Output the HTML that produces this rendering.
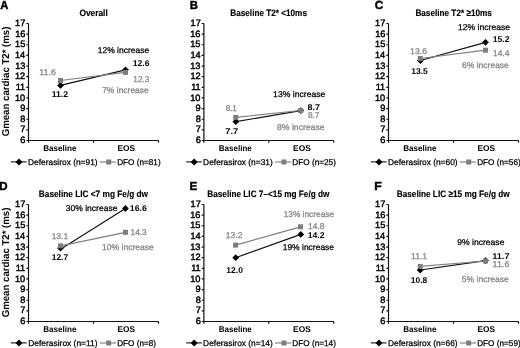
<!DOCTYPE html><html><head><meta charset="utf-8"><style>html,body{margin:0;padding:0;background:#fff;width:520px;height:348px;overflow:hidden}svg{display:block;will-change:transform}text{font-family:"Liberation Sans",sans-serif;text-rendering:geometricPrecision}</style></head><body>
<svg width="520" height="348" viewBox="0 0 520 348">
<rect width="520" height="348" fill="#fff"/>
<path d="M28.50 23.50V140.50H158.50M26.30 140.50H28.50M26.30 129.86H28.50M26.30 119.23H28.50M26.30 108.59H28.50M26.30 97.95H28.50M26.30 87.32H28.50M26.30 76.68H28.50M26.30 66.05H28.50M26.30 55.41H28.50M26.30 44.77H28.50M26.30 34.14H28.50M26.30 23.50H28.50M28.50 140.50V142.70M93.50 140.50V142.70M158.50 140.50V142.70" fill="none" stroke="#111" stroke-width="1.2"/>
<path d="M60.50 85.40L125.50 69.80" stroke="#111" stroke-width="1.2"/>
<path d="M60.50 82.00l3.40 3.40l-3.40 3.40l-3.40 -3.40z" fill="#000"/>
<path d="M125.50 66.40l3.40 3.40l-3.40 3.40l-3.40 -3.40z" fill="#000"/>
<path d="M60.50 80.50L125.50 72.40" stroke="#808080" stroke-width="1.2"/>
<rect x="58.00" y="78.00" width="5.00" height="5.00" fill="#7d7d7d"/>
<rect x="123.00" y="69.90" width="5.00" height="5.00" fill="#7d7d7d"/>
<path d="M11.00 161.90H26.60" stroke="#111" stroke-width="1.1"/>
<path d="M19.00 158.40l3.50 3.50l-3.50 3.50l-3.50 -3.50z" fill="#000"/>
<path d="M99.80 162.00H116.20" stroke="#7a7a7a" stroke-width="1.1"/>
<rect x="106.20" y="159.50" width="5.00" height="5.00" fill="#7d7d7d"/>
<path d="M203.90 23.50V140.50H333.70M201.70 140.50H203.90M201.70 129.86H203.90M201.70 119.23H203.90M201.70 108.59H203.90M201.70 97.95H203.90M201.70 87.32H203.90M201.70 76.68H203.90M201.70 66.05H203.90M201.70 55.41H203.90M201.70 44.77H203.90M201.70 34.14H203.90M201.70 23.50H203.90M203.90 140.50V142.70M268.80 140.50V142.70M333.70 140.50V142.70" fill="none" stroke="#111" stroke-width="1.2"/>
<path d="M235.80 121.70L300.70 110.60" stroke="#111" stroke-width="1.2"/>
<path d="M235.80 118.30l3.40 3.40l-3.40 3.40l-3.40 -3.40z" fill="#000"/>
<path d="M300.70 107.20l3.40 3.40l-3.40 3.40l-3.40 -3.40z" fill="#000"/>
<path d="M235.80 117.40L300.70 110.50" stroke="#808080" stroke-width="1.2"/>
<rect x="233.30" y="114.90" width="5.00" height="5.00" fill="#7d7d7d"/>
<rect x="298.20" y="108.00" width="5.00" height="5.00" fill="#7d7d7d"/>
<path d="M186.20 161.90H201.80" stroke="#111" stroke-width="1.1"/>
<path d="M194.20 158.40l3.50 3.50l-3.50 3.50l-3.50 -3.50z" fill="#000"/>
<path d="M275.00 162.00H291.40" stroke="#7a7a7a" stroke-width="1.1"/>
<rect x="281.40" y="159.50" width="5.00" height="5.00" fill="#7d7d7d"/>
<path d="M388.50 23.50V140.50H518.50M386.30 140.50H388.50M386.30 129.86H388.50M386.30 119.23H388.50M386.30 108.59H388.50M386.30 97.95H388.50M386.30 87.32H388.50M386.30 76.68H388.50M386.30 66.05H388.50M386.30 55.41H388.50M386.30 44.77H388.50M386.30 34.14H388.50M386.30 23.50H388.50M388.50 140.50V142.70M453.50 140.50V142.70M518.50 140.50V142.70" fill="none" stroke="#111" stroke-width="1.2"/>
<path d="M420.40 60.50L485.50 42.30" stroke="#111" stroke-width="1.2"/>
<path d="M420.40 57.10l3.40 3.40l-3.40 3.40l-3.40 -3.40z" fill="#000"/>
<path d="M485.50 38.90l3.40 3.40l-3.40 3.40l-3.40 -3.40z" fill="#000"/>
<path d="M420.30 58.50L485.50 50.20" stroke="#808080" stroke-width="1.2"/>
<rect x="417.80" y="56.00" width="5.00" height="5.00" fill="#7d7d7d"/>
<rect x="483.00" y="47.70" width="5.00" height="5.00" fill="#7d7d7d"/>
<path d="M371.00 161.90H386.60" stroke="#111" stroke-width="1.1"/>
<path d="M379.00 158.40l3.50 3.50l-3.50 3.50l-3.50 -3.50z" fill="#000"/>
<path d="M459.80 162.00H476.20" stroke="#7a7a7a" stroke-width="1.1"/>
<rect x="466.20" y="159.50" width="5.00" height="5.00" fill="#7d7d7d"/>
<path d="M28.50 204.50V321.50H158.50M26.30 321.50H28.50M26.30 310.86H28.50M26.30 300.23H28.50M26.30 289.59H28.50M26.30 278.95H28.50M26.30 268.32H28.50M26.30 257.68H28.50M26.30 247.05H28.50M26.30 236.41H28.50M26.30 225.77H28.50M26.30 215.14H28.50M26.30 204.50H28.50M28.50 321.50V323.70M93.50 321.50V323.70M158.50 321.50V323.70" fill="none" stroke="#111" stroke-width="1.2"/>
<path d="M60.50 249.20L125.40 208.50" stroke="#111" stroke-width="1.2"/>
<path d="M60.50 244.80l3.40 3.40l-3.40 3.40l-3.40 -3.40z" fill="#000"/>
<path d="M125.40 205.10l3.40 3.40l-3.40 3.40l-3.40 -3.40z" fill="#000"/>
<path d="M60.45 245.90L125.50 232.30" stroke="#808080" stroke-width="1.2"/>
<rect x="57.95" y="243.40" width="5.00" height="5.00" fill="#7d7d7d"/>
<rect x="123.00" y="229.80" width="5.00" height="5.00" fill="#7d7d7d"/>
<path d="M11.00 342.90H26.60" stroke="#111" stroke-width="1.1"/>
<path d="M19.00 339.40l3.50 3.50l-3.50 3.50l-3.50 -3.50z" fill="#000"/>
<path d="M99.80 343.00H116.20" stroke="#7a7a7a" stroke-width="1.1"/>
<rect x="106.20" y="340.50" width="5.00" height="5.00" fill="#7d7d7d"/>
<path d="M203.90 204.50V321.50H333.70M201.70 321.50H203.90M201.70 310.86H203.90M201.70 300.23H203.90M201.70 289.59H203.90M201.70 278.95H203.90M201.70 268.32H203.90M201.70 257.68H203.90M201.70 247.05H203.90M201.70 236.41H203.90M201.70 225.77H203.90M201.70 215.14H203.90M201.70 204.50H203.90M203.90 321.50V323.70M268.80 321.50V323.70M333.70 321.50V323.70" fill="none" stroke="#111" stroke-width="1.2"/>
<path d="M235.70 257.70L300.80 234.40" stroke="#111" stroke-width="1.2"/>
<path d="M235.70 254.30l3.40 3.40l-3.40 3.40l-3.40 -3.40z" fill="#000"/>
<path d="M300.80 231.00l3.40 3.40l-3.40 3.40l-3.40 -3.40z" fill="#000"/>
<path d="M235.60 245.10L300.50 226.80" stroke="#808080" stroke-width="1.2"/>
<rect x="233.10" y="242.60" width="5.00" height="5.00" fill="#7d7d7d"/>
<rect x="298.00" y="224.30" width="5.00" height="5.00" fill="#7d7d7d"/>
<path d="M186.20 342.90H201.80" stroke="#111" stroke-width="1.1"/>
<path d="M194.20 339.40l3.50 3.50l-3.50 3.50l-3.50 -3.50z" fill="#000"/>
<path d="M275.00 343.00H291.40" stroke="#7a7a7a" stroke-width="1.1"/>
<rect x="281.40" y="340.50" width="5.00" height="5.00" fill="#7d7d7d"/>
<path d="M388.50 204.50V321.50H518.50M386.30 321.50H388.50M386.30 310.86H388.50M386.30 300.23H388.50M386.30 289.59H388.50M386.30 278.95H388.50M386.30 268.32H388.50M386.30 257.68H388.50M386.30 247.05H388.50M386.30 236.41H388.50M386.30 225.77H388.50M386.30 215.14H388.50M386.30 204.50H388.50M388.50 321.50V323.70M453.50 321.50V323.70M518.50 321.50V323.70" fill="none" stroke="#111" stroke-width="1.2"/>
<path d="M420.20 270.00L485.50 260.60" stroke="#111" stroke-width="1.2"/>
<path d="M420.20 266.60l3.40 3.40l-3.40 3.40l-3.40 -3.40z" fill="#000"/>
<path d="M485.50 257.20l3.40 3.40l-3.40 3.40l-3.40 -3.40z" fill="#000"/>
<path d="M420.20 266.40L485.50 261.00" stroke="#808080" stroke-width="1.2"/>
<rect x="417.70" y="263.90" width="5.00" height="5.00" fill="#7d7d7d"/>
<rect x="483.00" y="258.50" width="5.00" height="5.00" fill="#7d7d7d"/>
<path d="M371.00 342.90H386.60" stroke="#111" stroke-width="1.1"/>
<path d="M379.00 339.40l3.50 3.50l-3.50 3.50l-3.50 -3.50z" fill="#000"/>
<path d="M459.80 343.00H476.20" stroke="#7a7a7a" stroke-width="1.1"/>
<rect x="466.20" y="340.50" width="5.00" height="5.00" fill="#7d7d7d"/>
<text id="YT0" transform="translate(8.90 81.45) rotate(-90)" text-anchor="middle" font-size="10.00" font-weight="bold" textLength="109.70" lengthAdjust="spacingAndGlyphs" fill="#000" stroke="#000" stroke-width="0.00">Gmean cardiac T2* (ms)</text>
<text id="YT1" transform="translate(8.90 262.45) rotate(-90)" text-anchor="middle" font-size="10.00" font-weight="bold" textLength="109.70" lengthAdjust="spacingAndGlyphs" fill="#000" stroke="#000" stroke-width="0.00">Gmean cardiac T2* (ms)</text>
<text id="LA" x="0.22" y="8.70" font-size="11.70" font-weight="bold" fill="#000" textLength="8.09" lengthAdjust="spacingAndGlyphs" stroke="#000" stroke-width="0.45">A</text>
<text id="LB" x="189.77" y="8.70" font-size="11.70" font-weight="bold" fill="#000" textLength="8.23" lengthAdjust="spacingAndGlyphs" stroke="#000" stroke-width="0.45">B</text>
<text id="LC" x="374.72" y="8.70" font-size="11.70" font-weight="bold" fill="#000" textLength="8.49" lengthAdjust="spacingAndGlyphs" stroke="#000" stroke-width="0.45">C</text>
<text id="LD" x="-0.72" y="189.80" font-size="11.70" font-weight="bold" fill="#000" textLength="8.32" lengthAdjust="spacingAndGlyphs" stroke="#000" stroke-width="0.45">D</text>
<text id="LE" x="189.48" y="189.70" font-size="11.70" font-weight="bold" fill="#000" textLength="7.78" lengthAdjust="spacingAndGlyphs" stroke="#000" stroke-width="0.45">E</text>
<text id="LF" x="374.15" y="189.70" font-size="11.70" font-weight="bold" fill="#000" textLength="7.50" lengthAdjust="spacingAndGlyphs" stroke="#000" stroke-width="0.45">F</text>
<text id="TA" x="79.51" y="15.60" font-size="9.30" font-weight="bold" fill="#000" textLength="28.25" lengthAdjust="spacingAndGlyphs" stroke="#000" stroke-width="0.15">Overall</text>
<text id="TB" x="230.32" y="15.60" font-size="9.30" font-weight="bold" fill="#000" textLength="76.64" lengthAdjust="spacingAndGlyphs" stroke="#000" stroke-width="0.15">Baseline T2* &lt;10ms</text>
<text id="TC" x="415.38" y="15.60" font-size="9.30" font-weight="bold" fill="#000" textLength="76.50" lengthAdjust="spacingAndGlyphs" stroke="#000" stroke-width="0.15">Baseline T2* ≥10ms</text>
<text id="TD" x="38.80" y="196.60" font-size="9.30" font-weight="bold" fill="#000" textLength="109.27" lengthAdjust="spacingAndGlyphs" stroke="#000" stroke-width="0.15">Baseline LIC &lt;7 mg Fe/g dw</text>
<text id="TE" x="207.28" y="196.60" font-size="9.30" font-weight="bold" fill="#000" textLength="122.17" lengthAdjust="spacingAndGlyphs" stroke="#000" stroke-width="0.15">Baseline LIC 7–&lt;15 mg Fe/g dw</text>
<text id="TF" x="396.69" y="196.60" font-size="9.30" font-weight="bold" fill="#000" textLength="112.99" lengthAdjust="spacingAndGlyphs" stroke="#000" stroke-width="0.15">Baseline LIC ≥15 mg Fe/g dw</text>
<text id="K00_6" x="20.16" y="143.10" font-size="9.20" font-weight="normal" fill="#000" stroke="#000" stroke-width="0.45">6</text>
<text id="K00_7" x="20.33" y="132.46" font-size="9.20" font-weight="normal" fill="#000" stroke="#000" stroke-width="0.45">7</text>
<text id="K00_8" x="20.17" y="121.83" font-size="9.20" font-weight="normal" fill="#000" stroke="#000" stroke-width="0.45">8</text>
<text id="K00_9" x="20.24" y="111.19" font-size="9.20" font-weight="normal" fill="#000" stroke="#000" stroke-width="0.45">9</text>
<text id="K00_10" x="14.96" y="100.55" font-size="9.20" font-weight="normal" fill="#000" stroke="#000" stroke-width="0.45">10</text>
<text id="K00_11" x="15.69" y="89.92" font-size="9.20" font-weight="normal" fill="#000" stroke="#000" stroke-width="0.45">11</text>
<text id="K00_12" x="14.99" y="79.28" font-size="9.20" font-weight="normal" fill="#000" stroke="#000" stroke-width="0.45">12</text>
<text id="K00_13" x="15.13" y="68.65" font-size="9.20" font-weight="normal" fill="#000" stroke="#000" stroke-width="0.45">13</text>
<text id="K00_14" x="14.89" y="58.01" font-size="9.20" font-weight="normal" fill="#000" stroke="#000" stroke-width="0.45">14</text>
<text id="K00_15" x="15.09" y="47.37" font-size="9.20" font-weight="normal" fill="#000" stroke="#000" stroke-width="0.45">15</text>
<text id="K00_16" x="15.14" y="36.74" font-size="9.20" font-weight="normal" fill="#000" stroke="#000" stroke-width="0.45">16</text>
<text id="K00_17" x="15.11" y="26.10" font-size="9.20" font-weight="normal" fill="#000" stroke="#000" stroke-width="0.45">17</text>
<text id="K01_6" x="195.69" y="143.10" font-size="9.20" font-weight="normal" fill="#000" stroke="#000" stroke-width="0.45">6</text>
<text id="K01_7" x="195.79" y="132.46" font-size="9.20" font-weight="normal" fill="#000" stroke="#000" stroke-width="0.45">7</text>
<text id="K01_8" x="195.70" y="121.83" font-size="9.20" font-weight="normal" fill="#000" stroke="#000" stroke-width="0.45">8</text>
<text id="K01_9" x="195.49" y="111.19" font-size="9.20" font-weight="normal" fill="#000" stroke="#000" stroke-width="0.45">9</text>
<text id="K01_10" x="190.14" y="100.55" font-size="9.20" font-weight="normal" fill="#000" stroke="#000" stroke-width="0.45">10</text>
<text id="K01_11" x="191.20" y="89.92" font-size="9.20" font-weight="normal" fill="#000" stroke="#000" stroke-width="0.45">11</text>
<text id="K01_12" x="190.49" y="79.28" font-size="9.20" font-weight="normal" fill="#000" stroke="#000" stroke-width="0.45">12</text>
<text id="K01_13" x="190.20" y="68.65" font-size="9.20" font-weight="normal" fill="#000" stroke="#000" stroke-width="0.45">13</text>
<text id="K01_14" x="190.46" y="58.01" font-size="9.20" font-weight="normal" fill="#000" stroke="#000" stroke-width="0.45">14</text>
<text id="K01_15" x="190.24" y="47.37" font-size="9.20" font-weight="normal" fill="#000" stroke="#000" stroke-width="0.45">15</text>
<text id="K01_16" x="190.19" y="36.74" font-size="9.20" font-weight="normal" fill="#000" stroke="#000" stroke-width="0.45">16</text>
<text id="K01_17" x="190.58" y="26.10" font-size="9.20" font-weight="normal" fill="#000" stroke="#000" stroke-width="0.45">17</text>
<text id="K02_6" x="380.16" y="143.10" font-size="9.20" font-weight="normal" fill="#000" stroke="#000" stroke-width="0.45">6</text>
<text id="K02_7" x="380.33" y="132.46" font-size="9.20" font-weight="normal" fill="#000" stroke="#000" stroke-width="0.45">7</text>
<text id="K02_8" x="380.17" y="121.83" font-size="9.20" font-weight="normal" fill="#000" stroke="#000" stroke-width="0.45">8</text>
<text id="K02_9" x="380.24" y="111.19" font-size="9.20" font-weight="normal" fill="#000" stroke="#000" stroke-width="0.45">9</text>
<text id="K02_10" x="374.96" y="100.55" font-size="9.20" font-weight="normal" fill="#000" stroke="#000" stroke-width="0.45">10</text>
<text id="K02_11" x="375.69" y="89.92" font-size="9.20" font-weight="normal" fill="#000" stroke="#000" stroke-width="0.45">11</text>
<text id="K02_12" x="374.99" y="79.28" font-size="9.20" font-weight="normal" fill="#000" stroke="#000" stroke-width="0.45">12</text>
<text id="K02_13" x="375.13" y="68.65" font-size="9.20" font-weight="normal" fill="#000" stroke="#000" stroke-width="0.45">13</text>
<text id="K02_14" x="374.89" y="58.01" font-size="9.20" font-weight="normal" fill="#000" stroke="#000" stroke-width="0.45">14</text>
<text id="K02_15" x="375.09" y="47.37" font-size="9.20" font-weight="normal" fill="#000" stroke="#000" stroke-width="0.45">15</text>
<text id="K02_16" x="375.14" y="36.74" font-size="9.20" font-weight="normal" fill="#000" stroke="#000" stroke-width="0.45">16</text>
<text id="K02_17" x="375.11" y="26.10" font-size="9.20" font-weight="normal" fill="#000" stroke="#000" stroke-width="0.45">17</text>
<text id="K10_6" x="20.16" y="324.10" font-size="9.20" font-weight="normal" fill="#000" stroke="#000" stroke-width="0.45">6</text>
<text id="K10_7" x="20.33" y="313.46" font-size="9.20" font-weight="normal" fill="#000" stroke="#000" stroke-width="0.45">7</text>
<text id="K10_8" x="20.17" y="302.83" font-size="9.20" font-weight="normal" fill="#000" stroke="#000" stroke-width="0.45">8</text>
<text id="K10_9" x="20.24" y="292.19" font-size="9.20" font-weight="normal" fill="#000" stroke="#000" stroke-width="0.45">9</text>
<text id="K10_10" x="14.96" y="281.55" font-size="9.20" font-weight="normal" fill="#000" stroke="#000" stroke-width="0.45">10</text>
<text id="K10_11" x="15.69" y="270.92" font-size="9.20" font-weight="normal" fill="#000" stroke="#000" stroke-width="0.45">11</text>
<text id="K10_12" x="14.99" y="260.28" font-size="9.20" font-weight="normal" fill="#000" stroke="#000" stroke-width="0.45">12</text>
<text id="K10_13" x="15.13" y="249.65" font-size="9.20" font-weight="normal" fill="#000" stroke="#000" stroke-width="0.45">13</text>
<text id="K10_14" x="14.89" y="239.01" font-size="9.20" font-weight="normal" fill="#000" stroke="#000" stroke-width="0.45">14</text>
<text id="K10_15" x="15.09" y="228.37" font-size="9.20" font-weight="normal" fill="#000" stroke="#000" stroke-width="0.45">15</text>
<text id="K10_16" x="15.14" y="217.74" font-size="9.20" font-weight="normal" fill="#000" stroke="#000" stroke-width="0.45">16</text>
<text id="K10_17" x="15.11" y="207.10" font-size="9.20" font-weight="normal" fill="#000" stroke="#000" stroke-width="0.45">17</text>
<text id="K11_6" x="195.69" y="324.10" font-size="9.20" font-weight="normal" fill="#000" stroke="#000" stroke-width="0.45">6</text>
<text id="K11_7" x="195.79" y="313.46" font-size="9.20" font-weight="normal" fill="#000" stroke="#000" stroke-width="0.45">7</text>
<text id="K11_8" x="195.70" y="302.83" font-size="9.20" font-weight="normal" fill="#000" stroke="#000" stroke-width="0.45">8</text>
<text id="K11_9" x="195.49" y="292.19" font-size="9.20" font-weight="normal" fill="#000" stroke="#000" stroke-width="0.45">9</text>
<text id="K11_10" x="190.14" y="281.55" font-size="9.20" font-weight="normal" fill="#000" stroke="#000" stroke-width="0.45">10</text>
<text id="K11_11" x="191.20" y="270.92" font-size="9.20" font-weight="normal" fill="#000" stroke="#000" stroke-width="0.45">11</text>
<text id="K11_12" x="190.49" y="260.28" font-size="9.20" font-weight="normal" fill="#000" stroke="#000" stroke-width="0.45">12</text>
<text id="K11_13" x="190.20" y="249.65" font-size="9.20" font-weight="normal" fill="#000" stroke="#000" stroke-width="0.45">13</text>
<text id="K11_14" x="190.46" y="239.01" font-size="9.20" font-weight="normal" fill="#000" stroke="#000" stroke-width="0.45">14</text>
<text id="K11_15" x="190.24" y="228.37" font-size="9.20" font-weight="normal" fill="#000" stroke="#000" stroke-width="0.45">15</text>
<text id="K11_16" x="190.19" y="217.74" font-size="9.20" font-weight="normal" fill="#000" stroke="#000" stroke-width="0.45">16</text>
<text id="K11_17" x="190.58" y="207.10" font-size="9.20" font-weight="normal" fill="#000" stroke="#000" stroke-width="0.45">17</text>
<text id="K12_6" x="380.16" y="324.10" font-size="9.20" font-weight="normal" fill="#000" stroke="#000" stroke-width="0.45">6</text>
<text id="K12_7" x="380.33" y="313.46" font-size="9.20" font-weight="normal" fill="#000" stroke="#000" stroke-width="0.45">7</text>
<text id="K12_8" x="380.17" y="302.83" font-size="9.20" font-weight="normal" fill="#000" stroke="#000" stroke-width="0.45">8</text>
<text id="K12_9" x="380.24" y="292.19" font-size="9.20" font-weight="normal" fill="#000" stroke="#000" stroke-width="0.45">9</text>
<text id="K12_10" x="374.96" y="281.55" font-size="9.20" font-weight="normal" fill="#000" stroke="#000" stroke-width="0.45">10</text>
<text id="K12_11" x="375.69" y="270.92" font-size="9.20" font-weight="normal" fill="#000" stroke="#000" stroke-width="0.45">11</text>
<text id="K12_12" x="374.99" y="260.28" font-size="9.20" font-weight="normal" fill="#000" stroke="#000" stroke-width="0.45">12</text>
<text id="K12_13" x="375.13" y="249.65" font-size="9.20" font-weight="normal" fill="#000" stroke="#000" stroke-width="0.45">13</text>
<text id="K12_14" x="374.89" y="239.01" font-size="9.20" font-weight="normal" fill="#000" stroke="#000" stroke-width="0.45">14</text>
<text id="K12_15" x="375.09" y="228.37" font-size="9.20" font-weight="normal" fill="#000" stroke="#000" stroke-width="0.45">15</text>
<text id="K12_16" x="375.14" y="217.74" font-size="9.20" font-weight="normal" fill="#000" stroke="#000" stroke-width="0.45">16</text>
<text id="K12_17" x="375.11" y="207.10" font-size="9.20" font-weight="normal" fill="#000" stroke="#000" stroke-width="0.45">17</text>
<text id="XB00" x="43.25" y="150.60" font-size="8.40" font-weight="bold" fill="#000" textLength="33.33" lengthAdjust="spacingAndGlyphs">Baseline</text>
<text id="XE00" x="117.50" y="150.80" font-size="8.40" font-weight="bold" fill="#000" textLength="17.72" lengthAdjust="spacingAndGlyphs">EOS</text>
<text id="XB01" x="218.76" y="150.60" font-size="8.40" font-weight="bold" fill="#000" textLength="33.04" lengthAdjust="spacingAndGlyphs">Baseline</text>
<text id="XE01" x="293.13" y="150.80" font-size="8.40" font-weight="bold" fill="#000" textLength="17.77" lengthAdjust="spacingAndGlyphs">EOS</text>
<text id="XB02" x="403.25" y="150.60" font-size="8.40" font-weight="bold" fill="#000" textLength="33.33" lengthAdjust="spacingAndGlyphs">Baseline</text>
<text id="XE02" x="477.50" y="150.80" font-size="8.40" font-weight="bold" fill="#000" textLength="17.72" lengthAdjust="spacingAndGlyphs">EOS</text>
<text id="XB10" x="43.25" y="331.60" font-size="8.40" font-weight="bold" fill="#000" textLength="33.33" lengthAdjust="spacingAndGlyphs">Baseline</text>
<text id="XE10" x="117.50" y="331.80" font-size="8.40" font-weight="bold" fill="#000" textLength="17.72" lengthAdjust="spacingAndGlyphs">EOS</text>
<text id="XB11" x="218.76" y="331.60" font-size="8.40" font-weight="bold" fill="#000" textLength="33.04" lengthAdjust="spacingAndGlyphs">Baseline</text>
<text id="XE11" x="293.13" y="331.80" font-size="8.40" font-weight="bold" fill="#000" textLength="17.77" lengthAdjust="spacingAndGlyphs">EOS</text>
<text id="XB12" x="403.25" y="331.60" font-size="8.40" font-weight="bold" fill="#000" textLength="33.33" lengthAdjust="spacingAndGlyphs">Baseline</text>
<text id="XE12" x="477.50" y="331.80" font-size="8.40" font-weight="bold" fill="#000" textLength="17.72" lengthAdjust="spacingAndGlyphs">EOS</text>
<text id="GD00" x="28.05" y="165.10" font-size="8.40" font-weight="normal" fill="#000" textLength="69.57" lengthAdjust="spacingAndGlyphs" stroke="#000" stroke-width="0.25">Deferasirox (n=91)</text>
<text id="GF00" x="117.21" y="165.10" font-size="8.40" font-weight="normal" fill="#000" textLength="43.44" lengthAdjust="spacingAndGlyphs" stroke="#000" stroke-width="0.25">DFO (n=81)</text>
<text id="GD01" x="203.10" y="165.10" font-size="8.40" font-weight="normal" fill="#000" textLength="69.73" lengthAdjust="spacingAndGlyphs" stroke="#000" stroke-width="0.25">Deferasirox (n=31)</text>
<text id="GF01" x="292.30" y="165.10" font-size="8.40" font-weight="normal" fill="#000" textLength="43.57" lengthAdjust="spacingAndGlyphs" stroke="#000" stroke-width="0.25">DFO (n=25)</text>
<text id="GD02" x="388.05" y="165.10" font-size="8.40" font-weight="normal" fill="#000" textLength="69.57" lengthAdjust="spacingAndGlyphs" stroke="#000" stroke-width="0.25">Deferasirox (n=60)</text>
<text id="GF02" x="477.16" y="165.10" font-size="8.40" font-weight="normal" fill="#000" textLength="43.54" lengthAdjust="spacingAndGlyphs" stroke="#000" stroke-width="0.25">DFO (n=56)</text>
<text id="GD10" x="28.23" y="346.10" font-size="8.40" font-weight="normal" fill="#000" textLength="69.34" lengthAdjust="spacingAndGlyphs" stroke="#000" stroke-width="0.25">Deferasirox (n=11)</text>
<text id="GF10" x="117.19" y="346.10" font-size="8.40" font-weight="normal" fill="#000" textLength="38.82" lengthAdjust="spacingAndGlyphs" stroke="#000" stroke-width="0.25">DFO (n=8)</text>
<text id="GD11" x="203.10" y="346.10" font-size="8.40" font-weight="normal" fill="#000" textLength="69.73" lengthAdjust="spacingAndGlyphs" stroke="#000" stroke-width="0.25">Deferasirox (n=14)</text>
<text id="GF11" x="292.30" y="346.10" font-size="8.40" font-weight="normal" fill="#000" textLength="43.57" lengthAdjust="spacingAndGlyphs" stroke="#000" stroke-width="0.25">DFO (n=14)</text>
<text id="GD12" x="388.05" y="346.10" font-size="8.40" font-weight="normal" fill="#000" textLength="69.57" lengthAdjust="spacingAndGlyphs" stroke="#000" stroke-width="0.25">Deferasirox (n=66)</text>
<text id="GF12" x="477.16" y="346.10" font-size="8.40" font-weight="normal" fill="#000" textLength="43.54" lengthAdjust="spacingAndGlyphs" stroke="#000" stroke-width="0.25">DFO (n=59)</text>
<text id="A1" x="39.34" y="75.20" font-size="8.40" font-weight="normal" fill="#828282" textLength="16.49" lengthAdjust="spacingAndGlyphs" stroke="#828282" stroke-width="0.25">11.6</text>
<text id="A2" x="51.67" y="96.80" font-size="8.40" font-weight="bold" fill="#000" textLength="16.47" lengthAdjust="spacingAndGlyphs">11.2</text>
<text id="A3" x="97.68" y="52.50" font-size="8.40" font-weight="normal" fill="#000" textLength="51.64" lengthAdjust="spacingAndGlyphs" stroke="#000" stroke-width="0.25">12% increase</text>
<text id="A4" x="132.69" y="65.70" font-size="8.40" font-weight="bold" fill="#000" textLength="16.77" lengthAdjust="spacingAndGlyphs">12.6</text>
<text id="A5" x="133.37" y="82.10" font-size="8.40" font-weight="normal" fill="#828282" textLength="16.06" lengthAdjust="spacingAndGlyphs" stroke="#828282" stroke-width="0.25">12.3</text>
<text id="A6" x="102.15" y="93.00" font-size="8.40" font-weight="normal" fill="#828282" textLength="46.66" lengthAdjust="spacingAndGlyphs" stroke="#828282" stroke-width="0.25">7% increase</text>
<text id="B1" x="225.63" y="111.30" font-size="8.40" font-weight="normal" fill="#828282" textLength="11.25" lengthAdjust="spacingAndGlyphs" stroke="#828282" stroke-width="0.25">8.1</text>
<text id="B2" x="225.23" y="133.50" font-size="8.40" font-weight="bold" fill="#000" textLength="13.10" lengthAdjust="spacingAndGlyphs">7.7</text>
<text id="B3" x="273.08" y="97.00" font-size="8.40" font-weight="normal" fill="#000" textLength="52.30" lengthAdjust="spacingAndGlyphs" stroke="#000" stroke-width="0.25">13% increase</text>
<text id="B4" x="307.59" y="110.30" font-size="8.40" font-weight="bold" fill="#000" textLength="12.54" lengthAdjust="spacingAndGlyphs">8.7</text>
<text id="B5" x="307.88" y="117.60" font-size="8.40" font-weight="normal" fill="#828282" textLength="11.62" lengthAdjust="spacingAndGlyphs" stroke="#828282" stroke-width="0.25">8.7</text>
<text id="B6" x="277.03" y="129.50" font-size="8.40" font-weight="normal" fill="#828282" textLength="47.67" lengthAdjust="spacingAndGlyphs" stroke="#828282" stroke-width="0.25">8% increase</text>
<text id="C1" x="410.08" y="53.80" font-size="8.40" font-weight="normal" fill="#828282" textLength="16.97" lengthAdjust="spacingAndGlyphs" stroke="#828282" stroke-width="0.25">13.6</text>
<text id="C2" x="411.18" y="73.60" font-size="8.40" font-weight="bold" fill="#000" textLength="16.62" lengthAdjust="spacingAndGlyphs">13.5</text>
<text id="C3" x="458.01" y="29.70" font-size="8.40" font-weight="normal" fill="#000" textLength="52.06" lengthAdjust="spacingAndGlyphs" stroke="#000" stroke-width="0.25">12% increase</text>
<text id="C4" x="492.69" y="41.80" font-size="8.40" font-weight="bold" fill="#000" textLength="16.90" lengthAdjust="spacingAndGlyphs">15.2</text>
<text id="C5" x="492.96" y="56.10" font-size="8.40" font-weight="normal" fill="#828282" textLength="16.41" lengthAdjust="spacingAndGlyphs" stroke="#828282" stroke-width="0.25">14.4</text>
<text id="C6" x="462.04" y="67.60" font-size="8.40" font-weight="normal" fill="#828282" textLength="46.82" lengthAdjust="spacingAndGlyphs" stroke="#828282" stroke-width="0.25">6% increase</text>
<text id="D1" x="51.66" y="239.30" font-size="8.40" font-weight="normal" fill="#828282" textLength="16.50" lengthAdjust="spacingAndGlyphs" stroke="#828282" stroke-width="0.25">13.1</text>
<text id="D2" x="51.74" y="259.70" font-size="8.40" font-weight="bold" fill="#000" textLength="16.33" lengthAdjust="spacingAndGlyphs">12.7</text>
<text id="D3" x="65.72" y="210.80" font-size="8.40" font-weight="normal" fill="#000" textLength="51.71" lengthAdjust="spacingAndGlyphs" stroke="#000" stroke-width="0.25">30% increase</text>
<text id="D4" x="129.79" y="210.90" font-size="8.40" font-weight="bold" fill="#000" textLength="17.20" lengthAdjust="spacingAndGlyphs">16.6</text>
<text id="D5" x="130.60" y="235.30" font-size="8.40" font-weight="normal" fill="#828282" textLength="16.12" lengthAdjust="spacingAndGlyphs" stroke="#828282" stroke-width="0.25">14.3</text>
<text id="D6" x="102.08" y="249.80" font-size="8.40" font-weight="normal" fill="#828282" textLength="51.72" lengthAdjust="spacingAndGlyphs" stroke="#828282" stroke-width="0.25">10% increase</text>
<text id="E1" x="225.85" y="237.70" font-size="8.40" font-weight="normal" fill="#828282" textLength="16.70" lengthAdjust="spacingAndGlyphs" stroke="#828282" stroke-width="0.25">13.2</text>
<text id="E2" x="226.32" y="272.70" font-size="8.40" font-weight="bold" fill="#000" textLength="16.61" lengthAdjust="spacingAndGlyphs">12.0</text>
<text id="E3" x="283.66" y="217.20" font-size="8.40" font-weight="normal" fill="#828282" textLength="50.40" lengthAdjust="spacingAndGlyphs" stroke="#828282" stroke-width="0.25">13% increase</text>
<text id="E4" x="308.08" y="229.30" font-size="8.40" font-weight="normal" fill="#828282" textLength="16.38" lengthAdjust="spacingAndGlyphs" stroke="#828282" stroke-width="0.25">14.8</text>
<text id="E5" x="307.77" y="237.80" font-size="8.40" font-weight="bold" fill="#000" textLength="16.79" lengthAdjust="spacingAndGlyphs">14.2</text>
<text id="E6" x="282.70" y="249.80" font-size="8.40" font-weight="normal" fill="#000" textLength="51.38" lengthAdjust="spacingAndGlyphs" stroke="#000" stroke-width="0.25">19% increase</text>
<text id="F1" x="410.99" y="259.40" font-size="8.40" font-weight="normal" fill="#828282" textLength="16.14" lengthAdjust="spacingAndGlyphs" stroke="#828282" stroke-width="0.25">11.1</text>
<text id="F2" x="410.81" y="283.10" font-size="8.40" font-weight="bold" fill="#000" textLength="16.49" lengthAdjust="spacingAndGlyphs">10.8</text>
<text id="F3" x="457.30" y="244.80" font-size="8.40" font-weight="normal" fill="#000" textLength="47.11" lengthAdjust="spacingAndGlyphs" stroke="#000" stroke-width="0.25">9% increase</text>
<text id="F4" x="492.18" y="259.40" font-size="8.40" font-weight="bold" fill="#000" textLength="17.32" lengthAdjust="spacingAndGlyphs">11.7</text>
<text id="F5" x="492.58" y="267.10" font-size="8.40" font-weight="normal" fill="#828282" textLength="16.80" lengthAdjust="spacingAndGlyphs" stroke="#828282" stroke-width="0.25">11.6</text>
<text id="F6" x="461.89" y="282.10" font-size="8.40" font-weight="normal" fill="#828282" textLength="46.93" lengthAdjust="spacingAndGlyphs" stroke="#828282" stroke-width="0.25">5% increase</text>
</svg></body></html>
